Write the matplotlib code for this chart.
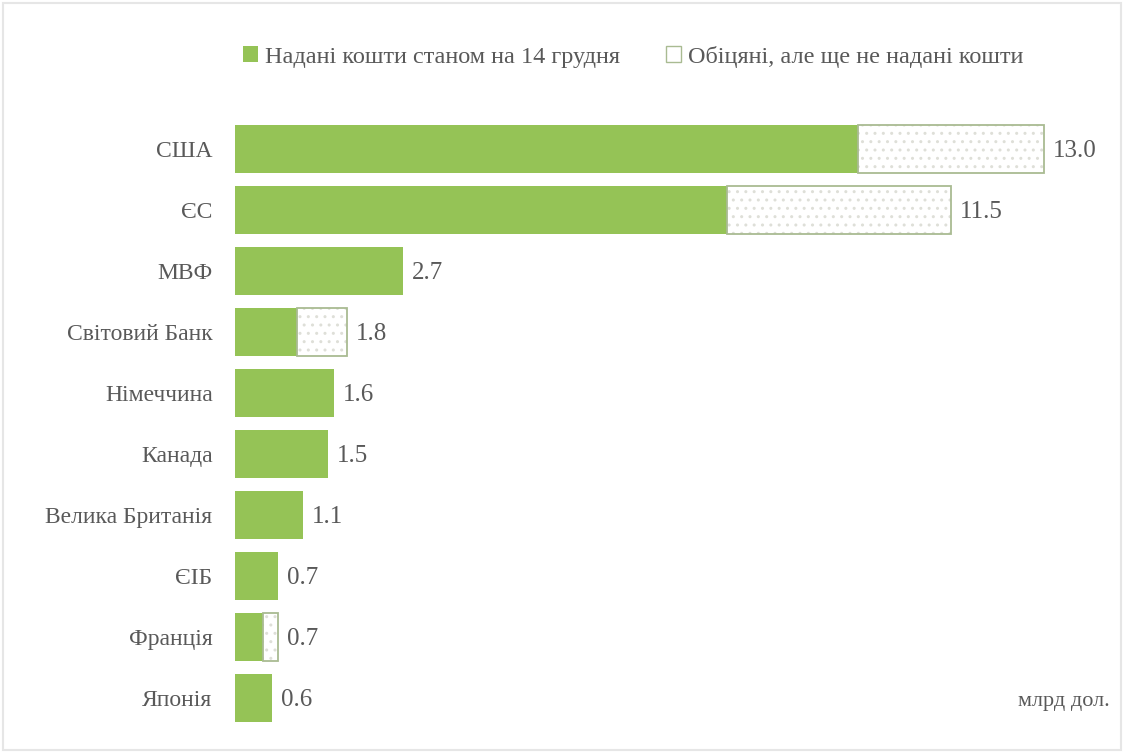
import matplotlib.pyplot as plt
from matplotlib.patches import Patch, Rectangle

# дані, млрд дол.
countries = ['США', 'ЄС', 'МВФ', 'Світовий Банк', 'Німеччина', 'Канада',
             'Велика Британія', 'ЄІБ', 'Франція', 'Японія']
given = [10.0, 7.9, 2.7, 1.0, 1.6, 1.5, 1.1, 0.7, 0.45, 0.6]
promised = [3.0, 3.6, 0.0, 0.8, 0.0, 0.0, 0.0, 0.0, 0.25, 0.0]
totals = [13.0, 11.5, 2.7, 1.8, 1.6, 1.5, 1.1, 0.7, 0.7, 0.6]

plt.rcParams['font.family'] = ['Liberation Serif', 'DejaVu Serif']
plt.rcParams['hatch.linewidth'] = 1.0

green = '#95c356'
txt = '#595959'

fig = plt.figure(figsize=(11.29, 7.55), dpi=100)
ax = fig.add_axes([0.208, 0.035, 0.775, 0.808])

y = list(range(len(countries)))
ax.barh(y, given, height=0.79, color=green, linewidth=0)
ax.barh(y, promised, left=given, height=0.79, facecolor='white',
        edgecolor='#dedfd8', hatch='..', linewidth=0)
for i in y:
    if promised[i] > 0:
        ax.barh(i, promised[i], left=given[i], height=0.79, fill=False,
                edgecolor='#a9bb92', linewidth=1.3)
    ax.text(totals[i] + 0.14, i + 0.03, f'{totals[i]:.1f}', va='center', ha='left',
            fontsize=18, color=txt)

ax.set_xlim(0, 14.05)
ax.set_ylim(9.5, -0.5)
ax.set_yticks(y)
ax.set_yticklabels(countries, fontsize=17, color=txt)
ax.tick_params(axis='y', length=0, pad=16)
ax.set_xticks([])
for s in ax.spines.values():
    s.set_visible(False)

ax.text(1.0, 0.045, 'млрд дол.', transform=ax.transAxes, ha='right',
        va='center', fontsize=16, color=txt)

handles = [Patch(facecolor=green, edgecolor='none'),
           Patch(facecolor='white', edgecolor='#a9bb92', linewidth=1)]
fig.legend(handles, ['Надані кошти станом на 14 грудня',
                     'Обіцяні, але ще не надані кошти'],
           loc='center left', bbox_to_anchor=(0.196, 0.925), ncol=2,
           frameon=False, fontsize=17.5, labelcolor=txt, handlelength=0.6,
           handleheight=0.6, handletextpad=0.3, columnspacing=1.9)

# світла рамка навколо
fig.patches.append(Rectangle((0.003, 0.006), 0.99, 0.99, transform=fig.transFigure,
                             fill=False, edgecolor='#e6e6e6', linewidth=1.5))

fig.savefig('out.png', dpi=100)
